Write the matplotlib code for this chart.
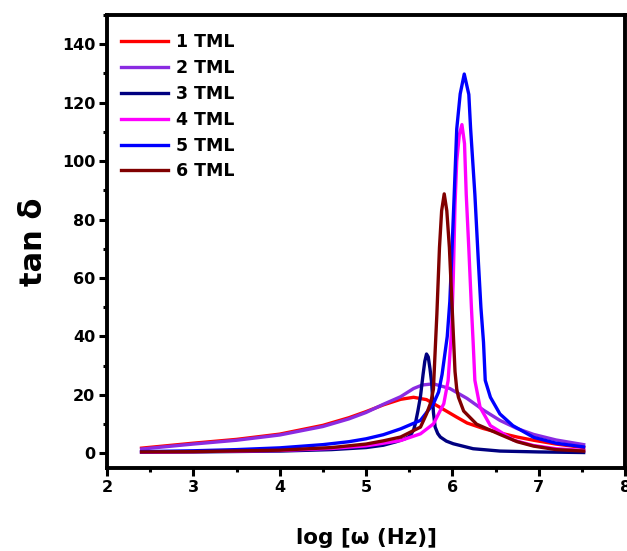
import matplotlib
matplotlib.use('Agg')
import matplotlib.pyplot as plt
from matplotlib.ticker import MultipleLocator

plt.rcParams['font.family'] = ['DejaVu Sans']
plt.rcParams['font.weight'] = 'bold'

# values, log frequency vs tan delta
x1 = [2.40, 3.0, 3.5, 4.0, 4.5, 4.8, 5.0, 5.2, 5.4, 5.55, 5.7, 5.9, 6.05, 6.17, 6.36,
      6.55, 6.75, 6.94, 7.2, 7.52]
y1 = [1.8, 3.5, 4.8, 6.6, 9.6, 12.2, 14.3, 16.6, 18.5, 19.2, 18.4, 15.0, 12.4, 10.4, 8.5,
      7.0, 5.6, 4.5, 3.2, 2.0]

x2 = [2.40, 3.0, 3.5, 4.0, 4.5, 4.8, 5.0, 5.2, 5.4, 5.55, 5.65, 5.78, 5.97, 6.17, 6.36,
      6.55, 6.75, 6.94, 7.2, 7.52]
y2 = [1.5, 3.2, 4.5, 6.3, 9.2, 11.8, 14.0, 16.8, 19.4, 22.2, 23.4, 23.8, 22.2, 18.8, 14.8,
      11.3, 8.5, 6.5, 4.6, 3.0]

x3 = [2.40, 3.0, 4.0, 4.6, 5.0, 5.2, 5.35, 5.45, 5.51, 5.55, 5.57, 5.60, 5.63, 5.66,
      5.68, 5.70, 5.72, 5.74, 5.76, 5.78, 5.80, 5.83, 5.86, 5.93, 6.01, 6.24, 6.55,
      7.0, 7.52]
y3 = [0.4, 0.5, 0.8, 1.3, 2.0, 2.8, 4.0, 5.0, 6.0, 8.0, 10.1, 14.5, 19.5, 27.0,
      31.5, 34.0, 33.0, 29.0, 24.0, 14.0, 9.0, 6.8, 5.6, 4.2, 3.3, 1.6, 0.8,
      0.5, 0.3]

x4 = [2.40, 3.0, 4.0, 4.6, 5.0, 5.16, 5.40, 5.63, 5.78, 5.90, 5.95, 5.99, 6.01, 6.03,
      6.05, 6.08, 6.11, 6.14, 6.16, 6.19, 6.22, 6.24, 6.26, 6.32, 6.44, 6.55, 6.71,
      6.94, 7.2, 7.52]
y4 = [0.4, 0.6, 1.0, 1.7, 2.6, 3.3, 4.4, 6.7, 10.1, 17.0, 24.9, 42.0, 60.0, 85.0,
      100.0, 109.0, 112.5, 106.0, 88.6, 70.0, 49.9, 38.0, 25.0, 15.8, 9.5, 7.5, 4.5,
      2.7, 1.6, 1.0]

x5 = [2.40, 3.0, 3.5, 4.0, 4.5, 4.8, 5.0, 5.2, 5.40, 5.63, 5.78, 5.84, 5.88, 5.94,
      5.97, 5.99, 6.02, 6.05, 6.09, 6.137, 6.19, 6.21, 6.26, 6.30, 6.33, 6.36, 6.38,
      6.44, 6.55, 6.7, 6.94, 7.2, 7.52]
y5 = [0.6, 0.9, 1.3, 1.9, 3.0, 4.0, 5.0, 6.4, 8.4, 11.3, 17.0, 21.0, 27.0, 40.0,
      52.0, 66.0, 88.0, 111.0, 123.0, 129.8, 122.8, 111.4, 88.6, 65.9, 49.9, 38.0, 25.0,
      19.2, 13.5, 9.5, 5.5, 3.5, 2.2]

x6 = [2.40, 3.0, 4.0, 4.6, 5.0, 5.2, 5.40, 5.63, 5.70, 5.75, 5.78, 5.80, 5.82, 5.85,
      5.875, 5.905, 5.935, 5.965, 6.00, 6.03, 6.05, 6.07, 6.13, 6.28, 6.55, 6.75, 6.94,
      7.2, 7.52]
y6 = [0.5, 0.6, 1.1, 2.0, 3.2, 4.3, 5.6, 9.0, 13.5, 17.5, 22.0, 35.0, 47.7, 70.4,
      83.0, 88.8, 83.0, 70.4, 47.7, 28.0, 22.0, 19.2, 14.5, 10.0, 6.5, 4.0, 2.5,
      1.3, 0.8]

series = [
    (x1, y1, '1 TML', '#ff0000'),
    (x2, y2, '2 TML', '#8a2be2'),
    (x3, y3, '3 TML', '#000080'),
    (x4, y4, '4 TML', '#ff00ff'),
    (x5, y5, '5 TML', '#0000ff'),
    (x6, y6, '6 TML', '#800000'),
]

fig = plt.figure(figsize=(6.27, 5.51), dpi=100)
ax = fig.add_axes([0.1707, 0.1506, 0.8263, 0.8222])

for xs, ys, lab, col in series:
    ax.plot(xs, ys, color=col, lw=2.4, label=lab, solid_joinstyle='round')

ax.set_xlim(2, 8)
ax.set_ylim(-5, 150)
ax.xaxis.set_major_locator(MultipleLocator(1))
ax.xaxis.set_minor_locator(MultipleLocator(0.5))
ax.yaxis.set_minor_locator(MultipleLocator(10))
ax.set_yticks(range(0, 141, 20))
ax.tick_params(which='major', direction='out', length=5.5, width=2.2, labelsize=11.5, pad=3)
ax.tick_params(which='minor', direction='out', length=3, width=2.2)
for sp in ax.spines.values():
    sp.set_linewidth(2.8)

ax.set_xlabel('log [ω (Hz)]', fontsize=15.5, fontweight='bold', labelpad=24)
ax.set_ylabel('tan δ', fontsize=22, fontweight='bold', labelpad=10)

leg = ax.legend(loc='upper left', frameon=False, fontsize=12.5, handlelength=2.7,
                handletextpad=0.45, labelspacing=0.45, borderaxespad=0.4,
                bbox_to_anchor=(0.0, 0.99))
for t in leg.get_texts():
    t.set_fontweight('bold')

fig.savefig('out.png', dpi=100)
